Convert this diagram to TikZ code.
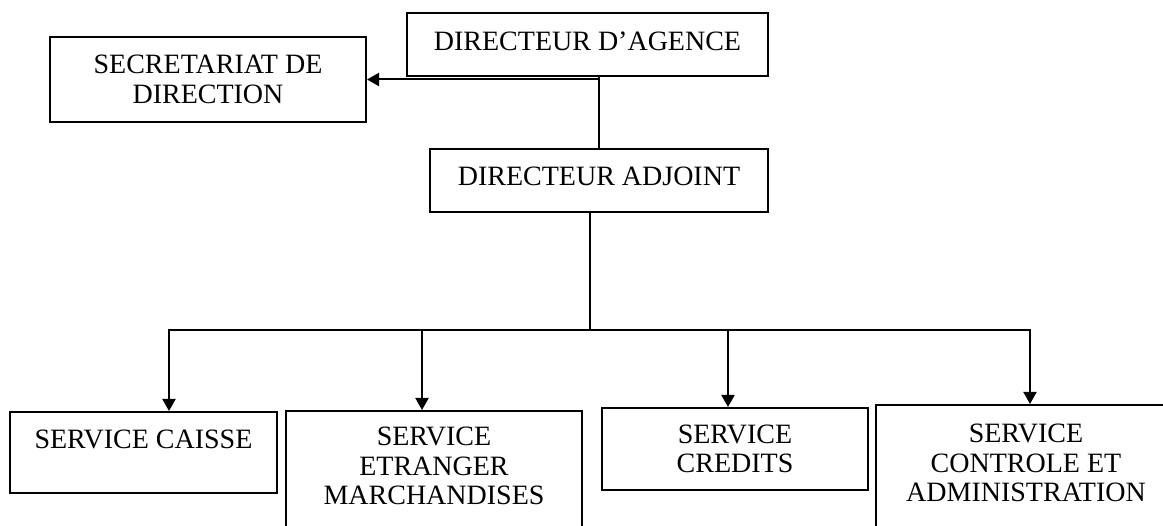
\documentclass[tikz,border=0pt]{standalone}
\usepackage{fontspec}
\setmainfont{Liberation Serif}
\usetikzlibrary{arrows.meta}
\begin{document}
\begin{tikzpicture}[x=1pt,y=-1pt,
  box/.style={draw, line width=2pt, align=center, inner sep=0pt, font=\fontsize{28}{29.5}\selectfont},
  link/.style={line width=2pt},
  arr/.style={link, -{Triangle[length=12pt,width=13pt]}},
  both/.style={link, {Triangle[length=12pt,width=13pt]}-{Triangle[length=12pt,width=13pt]}}]
\clip (0,0) rectangle (1163,526);
\fill[white] (0,0) rectangle (1163,526);
\node[box, minimum width=361pt, minimum height=63pt, text depth=7pt] (dag) at (587.5,44.5) {DIRECTEUR D’AGENCE};
\node[box, minimum width=338pt, minimum height=63pt, text depth=9pt] (adj) at (599,180.5) {DIRECTEUR ADJOINT};
\node[box, minimum width=316pt, minimum height=85pt] (sec) at (208,79.5) {SECRETARIAT DE\\DIRECTION};
\node[box, minimum width=267pt, minimum height=81pt, text depth=27pt] (caisse) at (143.5,452.5) {SERVICE CAISSE};
\node[box, minimum width=296pt, minimum height=130pt, text depth=20pt] (etr) at (434,476) {SERVICE\\ETRANGER\\MARCHANDISES};
\node[box, minimum width=266pt, minimum height=82pt] (cred) at (735,449) {SERVICE\\CREDITS};
\node[box, minimum width=300pt, minimum height=140pt, text depth=24pt] (ctrl) at (1026,475) {SERVICE\\CONTROLE ET\\ADMINISTRATION};
\coordinate (bus) at (590,330);
\coordinate (d1) at (169,330);
\coordinate (d2) at (422,330);
\coordinate (d3) at (728,330);
\coordinate (d4) at (1030,330);
\draw[link] (dag.south -| adj.north) -- (adj.north);
\draw[arr] (sec.east -| adj.north) -- (sec.east);
\draw[link] (adj.south -| bus) -- (bus);
\draw[both] (d1 |- caisse.north) -- (d1) -- (d4) -- (d4 |- ctrl.north);
\draw[arr] (d2) -- (d2 |- etr.north);
\draw[arr] (d3) -- (d3 |- cred.north);
\end{tikzpicture}
\end{document}
